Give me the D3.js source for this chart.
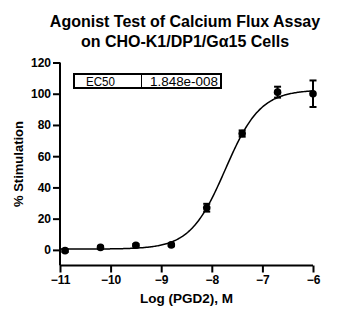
<!DOCTYPE html>
<html>
<head>
<meta charset="utf-8">
<script src="https://cdn.jsdelivr.net/npm/d3@7"></script>
<style>
body { margin: 0; background: #fff; }
text { font-family: Arial, "Liberation Sans", sans-serif; }
</style>
</head>
<body>
<svg id="chart" width="357" height="320"></svg>
<script>
// measured points
const logDose = [-10.9, -10.2, -9.5, -8.8, -8.1, -7.4, -6.7, -6.0];
const stim = [-0.5, 1.6, 3, 3.2, 27, 74.5, 101, 100];
const sem = [0.8, 0.8, 0.8, 0.8, 2.5, 2, 3.5, 8.5];
const xTicks = [-11, -10, -9, -8, -7, -6];
const yTicks = [0, 20, 40, 60, 80, 100, 120];
// fit parameters shown on the chart
const ec50Text = "1.848e-008";
const logEC50 = Math.log10(1.848e-8);
const fitBottom = 0.5;
const fitTop = 102.5;
const hill = 1.25;

const chart = d3.select("#chart");
const axisColor = "#000";

const x = d3.scaleLinear().domain([-11, -6]).range([60, 313]);
const y = d3.scaleLinear().domain([-10, 120]).range([265.5, 62.5]);

// title
const title = chart.append("text")
	.attr("text-anchor", "middle")
	.attr("font-weight", "bold")
	.attr("font-size", "16px");
title.append("tspan").attr("x", 185).attr("y", 27).text("Agonist Test of Calcium Flux Assay");
title.append("tspan").attr("x", 185).attr("y", 47).text("on CHO-K1/DP1/G\u03b115 Cells");

// axes
const yAxis = chart.append("g")
	.attr("transform", "translate(60,0)")
	.call(d3.axisLeft(y).tickValues(yTicks).tickSize(7).tickPadding(2));
const xAxis = chart.append("g")
	.attr("transform", "translate(0,265.5)")
	.call(d3.axisBottom(x).tickValues(xTicks).tickSize(7).tickPadding(3).tickFormat(d3.format("d")));

[yAxis, xAxis].forEach(function(ax) {
	ax.select(".domain").attr("stroke", axisColor).attr("stroke-width", 2);
	ax.selectAll(".tick line").attr("stroke", axisColor).attr("stroke-width", 2);
	ax.selectAll(".tick text")
		.attr("fill", axisColor)
		.attr("font-family", "Arial, 'Liberation Sans', sans-serif")
		.attr("font-weight", "bold")
		.attr("font-size", "12px");
});
// remove outer tick stubs so the axes join like the original
yAxis.select(".domain").attr("d", "M0," + y(120) + "V" + y(-10));
xAxis.select(".domain").attr("d", "M" + x(-11) + ",0H" + x(-6));

chart.append("text")
	.attr("transform", "translate(23," + ((y(120) + y(-10)) / 2) + ") rotate(-90)")
	.attr("text-anchor", "middle")
	.attr("font-weight", "bold")
	.attr("font-size", "13px")
	.text("% Stimulation");

chart.append("text")
	.attr("x", (x(-11) + x(-6)) / 2)
	.attr("y", 303)
	.attr("text-anchor", "middle")
	.attr("font-weight", "bold")
	.attr("font-size", "13.5px")
	.text("Log (PGD2), M");

// EC50 box
const box = chart.append("g");
box.append("rect")
	.attr("x", 74).attr("y", 74)
	.attr("width", 147).attr("height", 14)
	.attr("fill", "none").attr("stroke", axisColor).attr("stroke-width", 2);
box.append("line")
	.attr("x1", 141.5).attr("x2", 141.5).attr("y1", 74).attr("y2", 88)
	.attr("stroke", axisColor).attr("stroke-width", 1);
box.append("text").attr("x", 86).attr("y", 85.5)
	.attr("font-size", "12px")
	.attr("textLength", 29).attr("lengthAdjust", "spacingAndGlyphs")
	.text("EC50");
box.append("text").attr("x", 150).attr("y", 85.5)
	.attr("font-size", "12px")
	.attr("textLength", 68).attr("lengthAdjust", "spacingAndGlyphs")
	.text(ec50Text);

// fitted curve
const curveX = d3.range(-11, -5.999, 0.02);
const fit = function(v) {
	return fitBottom + (fitTop - fitBottom) / (1 + Math.pow(10, (logEC50 - v) * hill));
};
chart.append("path")
	.datum(curveX)
	.attr("fill", "none")
	.attr("stroke", axisColor)
	.attr("stroke-width", 1.5)
	.attr("d", d3.line().x(function(d) { return x(d); }).y(function(d) { return y(fit(d)); }));

// error bars
const pts = logDose.map(function(d, i) { return { x: d, y: stim[i], e: sem[i] }; });
const err = chart.append("g").attr("stroke", axisColor).attr("stroke-width", 2);
err.selectAll("line.v").data(pts).enter().append("line")
	.attr("x1", function(d) { return x(d.x); })
	.attr("x2", function(d) { return x(d.x); })
	.attr("y1", function(d) { return y(d.y + d.e); })
	.attr("y2", function(d) { return y(d.y - d.e); });
[1, -1].forEach(function(s) {
	err.selectAll(null).data(pts).enter().append("line")
		.attr("x1", function(d) { return x(d.x) - 3.5; })
		.attr("x2", function(d) { return x(d.x) + 3.5; })
		.attr("y1", function(d) { return y(d.y + s * d.e); })
		.attr("y2", function(d) { return y(d.y + s * d.e); });
});

// points
chart.append("g").selectAll("circle").data(pts).enter().append("circle")
	.attr("cx", function(d) { return x(d.x); })
	.attr("cy", function(d) { return y(d.y); })
	.attr("r", 3.8)
	.attr("fill", axisColor);
</script>
</body>
</html>
